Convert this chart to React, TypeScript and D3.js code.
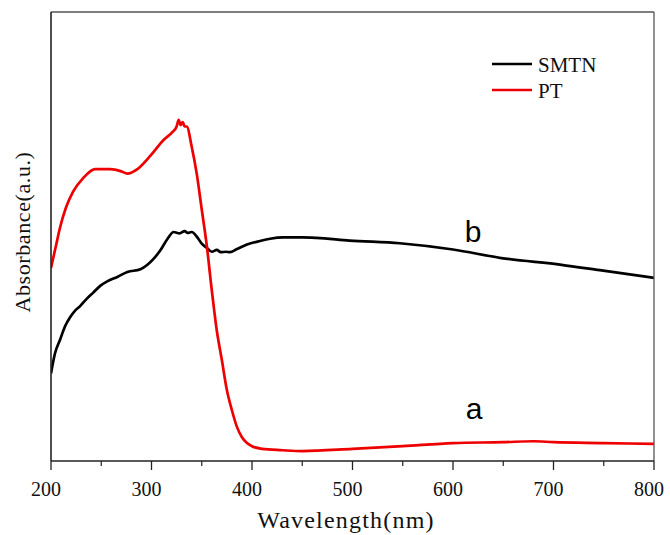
import React from "react";
import * as d3 from "d3";

const xTicks = [200, 300, 400, 500, 600, 700, 800];
const xMinorTicks = [250, 350, 450, 550, 650, 750];

// Wavelength (nm)
const ptWavelength = [200, 202, 205, 209, 215, 222, 232, 244, 259, 270, 276, 286, 299, 312, 321, 325, 327, 329, 331, 333, 335, 340, 345, 350, 355, 360, 365, 370, 375, 380, 385, 390, 395, 400, 410, 430, 450, 500, 550, 600, 650, 680, 700, 750, 800];
// Absorbance (a.u.), arbitrary scale 0..1
const ptAbs = [0.43, 0.45, 0.48, 0.52, 0.565, 0.6, 0.63, 0.65, 0.65, 0.645, 0.64, 0.65, 0.68, 0.715, 0.733, 0.745, 0.76, 0.748, 0.755, 0.745, 0.745, 0.7, 0.64, 0.56, 0.48, 0.38, 0.29, 0.225, 0.158, 0.113, 0.076, 0.053, 0.04, 0.033, 0.027, 0.024, 0.022, 0.027, 0.033, 0.04, 0.042, 0.044, 0.042, 0.04, 0.038];

const smtnWavelength = [200, 204, 209, 214, 219, 224, 229, 235, 242, 249, 256, 266, 276, 289, 302, 309, 316, 322, 328, 333, 336, 340, 346, 350, 355, 360, 365, 369, 374, 378, 385, 395, 408, 418, 431, 450, 464, 497, 547, 600, 648, 708, 746, 800];
const smtnAbs = [0.195, 0.24, 0.27, 0.3, 0.32, 0.335, 0.345, 0.36, 0.375, 0.39, 0.4, 0.41, 0.421, 0.427, 0.45, 0.47, 0.495, 0.51, 0.507, 0.512, 0.508, 0.51, 0.497, 0.484, 0.475, 0.466, 0.47, 0.465, 0.466, 0.465, 0.472, 0.482, 0.49, 0.495, 0.498, 0.498, 0.497, 0.491, 0.485, 0.471, 0.452, 0.437, 0.425, 0.408];

const W = 670;
const H = 535;
const margin = { left: 51, right: 16, top: 12, bottom: 74 };

export default function App() {
  const x = d3.scaleLinear().domain([200, 800]).range([margin.left, W - margin.right]);
  const y = d3.scaleLinear().domain([0, 1]).range([H - margin.bottom, margin.top]);
  const line = d3
    .line<[number, number]>()
    .x((d) => x(d[0]))
    .y((d) => y(d[1]))
    .curve(d3.curveMonotoneX);
  const pt: [number, number][] = ptWavelength.map((w, i) => [w, ptAbs[i]]);
  const smtn: [number, number][] = smtnWavelength.map((w, i) => [w, smtnAbs[i]]);
  const x0 = margin.left;
  const x1 = W - margin.right;
  const y0 = H - margin.bottom;
  const y1 = margin.top;
  const serif = "'Liberation Serif', 'Times New Roman', serif";
  const sans = "'Liberation Sans', Arial, sans-serif";
  return (
    <svg width={W} height={H} style={{ position: "absolute", left: 0, top: 0, background: "#fff" }}>
      <defs>
        <clipPath id="plot">
          <rect x={x0} y={y1} width={x1 - x0} height={y0 - y1} />
        </clipPath>
      </defs>
      <rect x={0} y={0} width={W} height={H} fill="#fff" />
      <g clipPath="url(#plot)" fill="none" strokeLinejoin="round">
        <path d={line(smtn) || ""} stroke="#000" strokeWidth={2.7} />
        <path d={line(pt) || ""} stroke="#ee0000" strokeWidth={2.7} />
      </g>
      {/* frame */}
      <line x1={x0} y1={y1} x2={x1} y2={y1} stroke="#555" strokeWidth={1.3} />
      <line x1={x1} y1={y1} x2={x1} y2={y0} stroke="#555" strokeWidth={1.3} />
      <line x1={x0} y1={y1} x2={x0} y2={y0} stroke="#222" strokeWidth={1.6} />
      <line x1={x0} y1={y0} x2={x1} y2={y0} stroke="#222" strokeWidth={1.6} />
      {xTicks.map((t) => (
        <g key={t}>
          <line x1={x(t)} x2={x(t)} y1={y0} y2={y0 + 9} stroke="#222" strokeWidth={1.3} />
          <text x={x(t) - 5} y={496} textAnchor="middle" fontFamily={serif} fontSize={20} fill="#111">
            {t}
          </text>
        </g>
      ))}
      {xMinorTicks.map((t) => (
        <line key={t} x1={x(t)} x2={x(t)} y1={y0} y2={y0 + 5} stroke="#222" strokeWidth={1.2} />
      ))}
      <text x={346} y={528} textAnchor="middle" fontFamily={serif} fontSize={24} letterSpacing={1.2} fill="#111">
        Wavelength(nm)
      </text>
      <text
        transform="translate(30,232) rotate(-90)"
        textAnchor="middle"
        fontFamily={serif}
        fontSize={22}
        letterSpacing={0.6}
        fill="#111"
      >
        Absorbance(a.u.)
      </text>
      {/* legend */}
      <line x1={492} x2={532} y1={64} y2={64} stroke="#000" strokeWidth={2.7} />
      <text x={538} y={72} fontFamily={serif} fontSize={21} fill="#111">SMTN</text>
      <line x1={492} x2={532} y1={90} y2={90} stroke="#ee0000" strokeWidth={2.7} />
      <text x={538} y={98} fontFamily={serif} fontSize={21} fill="#111">PT</text>
      {/* curve labels */}
      <text x={473} y={242} textAnchor="middle" fontFamily={sans} fontSize={30} fill="#000">b</text>
      <text x={474} y={419} textAnchor="middle" fontFamily={sans} fontSize={30} fill="#000">a</text>
    </svg>
  );
}
